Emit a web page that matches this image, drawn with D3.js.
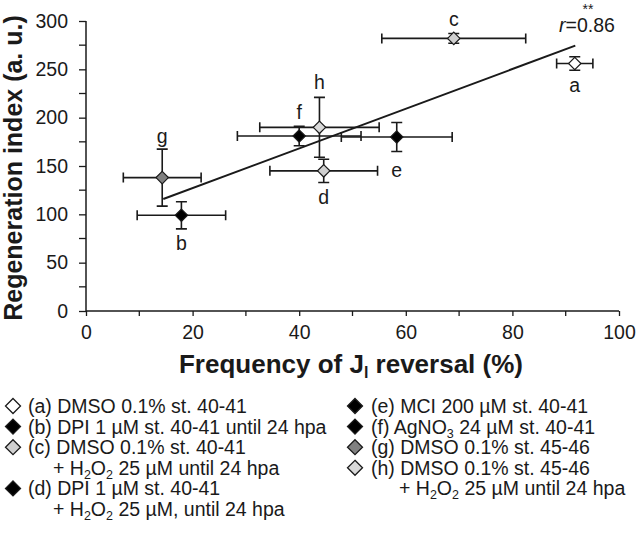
<!DOCTYPE html>
<html>
<head>
<meta charset="utf-8">
<script src="https://cdn.jsdelivr.net/npm/d3@7"></script>
<style>
  html, body { margin: 0; padding: 0; background: #fff; }
  svg { display: block; font-family: "Liberation Sans", Arial, sans-serif; }
</style>
</head>
<body>
<svg id="chart" width="636" height="549"></svg>
<script>
// ---------- data ----------
const labels   = ["a", "b", "c", "d", "e", "f", "g", "h"];
const freq     = [91.7, 17.9, 69.0, 44.6, 58.3, 40.0, 14.3, 43.8];   // % J_l reversal
const freqErr  = [3.4, 8.3, 13.5, 10.1, 10.4, 11.6, 7.3, 11.2];
const regen    = [256, 99, 282, 145, 180, 181, 138, 190];           // regeneration index
const regenErr = [7, 14, 5, 12, 15, 10, 29.5, 31];
const fills    = ["#ffffff", "#000000", "#d0d0d0", "#d0d0d0", "#000000", "#000000", "#808080", "#d9d9d9"];
const labelSide = ["below", "below", "above", "below", "below", "above", "above", "above"];
const labelGap  = [21, 28, 19, 26, 33, 24, 42, 45];

const fitX = [14.5, 91.8];
const fitY = [115.9, 274.5];

const xTicks = [0, 20, 40, 60, 80, 100];
const yTicks = [0, 50, 100, 150, 200, 250, 300];
const xMinor = [10, 30, 50, 70, 90];
const yMinor = [25, 75, 125, 175, 225, 275];

// legend entries: strings are normal text, one-element arrays are subscripts
const legendLeft = [
  { fill: "#ffffff", lines: [["(a) DMSO 0.1% st. 40-41"]] },
  { fill: "#000000", lines: [["(b) DPI 1 µM st. 40-41 until 24 hpa"]] },
  { fill: "#d0d0d0", lines: [["(c) DMSO 0.1% st. 40-41"], ["+ H", ["2"], "O", ["2"], " 25 µM until 24 hpa"]] },
  { fill: "#000000", lines: [["(d) DPI 1 µM st. 40-41"], ["+ H", ["2"], "O", ["2"], " 25 µM, until 24 hpa"]] }
];
const legendRight = [
  { fill: "#000000", lines: [["(e) MCI 200 µM st. 40-41"]] },
  { fill: "#000000", lines: [["(f) AgNO", ["3"], " 24 µM st. 40-41"]] },
  { fill: "#808080", lines: [["(g) DMSO 0.1% st. 45-46"]] },
  { fill: "#d9d9d9", lines: [["(h) DMSO 0.1% st. 45-46"], ["+ H", ["2"], "O", ["2"], " 25 µM until 24 hpa"]] }
];

// ---------- layout ----------
const svg = d3.select("#chart");
const x = d3.scaleLinear().domain([0, 100]).range([86, 619]);
const y = d3.scaleLinear().domain([0, 300]).range([311, 21]);
const ink = "#1a1a1a";
const FS = 19.5;

// axes
const xAxis = d3.axisBottom(x).tickValues(xTicks).tickSize(5).tickPadding(9);
const yAxis = d3.axisLeft(y).tickValues(yTicks).tickSize(7).tickPadding(11);

const gx = svg.append("g").attr("transform", `translate(0,${y(0)})`).call(xAxis);
const gy = svg.append("g").attr("transform", `translate(${x(0)},0)`).call(yAxis);
[gx, gy].forEach(g => {
  g.select(".domain").attr("stroke", ink).attr("stroke-width", 1.5);
  g.selectAll(".tick line").attr("stroke", ink).attr("stroke-width", 1.3);
  g.selectAll(".tick text").attr("font-size", FS).attr("fill", ink)
    .attr("font-family", "Liberation Sans, Arial, sans-serif");
});
gx.select(".domain").attr("d", `M${x(0)},0H${x(100)}`);
gy.select(".domain").attr("d", `M0,${y(0)}V${y(300)}`);

// minor ticks
svg.append("g").selectAll("line").data(xMinor).join("line")
  .attr("x1", d => x(d)).attr("x2", d => x(d))
  .attr("y1", y(0)).attr("y2", y(0) + 5)
  .attr("stroke", ink).attr("stroke-width", 1.3);
svg.append("g").selectAll("line").data(yMinor).join("line")
  .attr("x1", x(0)).attr("x2", x(0) - 7)
  .attr("y1", d => y(d)).attr("y2", d => y(d))
  .attr("stroke", ink).attr("stroke-width", 1.3);

// axis titles
const xt = svg.append("text")
  .attr("x", 351).attr("y", 373)
  .attr("text-anchor", "middle")
  .attr("font-size", 26).attr("font-weight", "bold").attr("fill", ink);
xt.append("tspan").text("Frequency of J");
xt.append("tspan").attr("font-size", 16).attr("dy", 5).text("l");
xt.append("tspan").attr("dy", -5).text(" reversal (%)");

svg.append("text")
  .attr("transform", `translate(22,${(y(0) + y(300)) / 2 + 2}) rotate(-90)`)
  .attr("text-anchor", "middle")
  .attr("font-size", 25).attr("font-weight", "bold").attr("fill", ink)
  .text("Regeneration index (a. u.)");

// regression line
svg.append("line")
  .attr("x1", x(fitX[0])).attr("y1", y(fitY[0]))
  .attr("x2", x(fitX[1])).attr("y2", y(fitY[1]))
  .attr("stroke", ink).attr("stroke-width", 2);

// data points
const pts = labels.map((l, i) => ({ l, fx: freq[i], fe: freqErr[i], ry: regen[i], re: regenErr[i], fill: fills[i], side: labelSide[i], gap: labelGap[i] }));

const eb = svg.append("g").attr("stroke", ink).attr("stroke-width", 1.6).attr("fill", "none");
const capH = 5, capV = 5.5;
pts.forEach(p => {
  const cx = x(p.fx), cy = y(p.ry);
  const x0 = x(p.fx - p.fe), x1 = x(p.fx + p.fe);
  const y0 = y(p.ry - p.re), y1 = y(p.ry + p.re);
  eb.append("path").attr("d",
    `M${x0},${cy}H${x1}M${x0},${cy - capH}V${cy + capH}M${x1},${cy - capH}V${cy + capH}` +
    `M${cx},${y0}V${y1}M${cx - capV},${y0}H${cx + capV}M${cx - capV},${y1}H${cx + capV}`);
});

const diamond = (cx, cy, r) => `M${cx},${cy - r}L${cx + r},${cy}L${cx},${cy + r}L${cx - r},${cy}Z`;
svg.append("g").selectAll("path").data(pts).join("path")
  .attr("d", d => diamond(x(d.fx), y(d.ry), 6.2))
  .attr("fill", d => d.fill)
  .attr("stroke", ink).attr("stroke-width", 1.2);

// point labels
svg.append("g").selectAll("text").data(pts).join("text")
  .attr("x", d => x(d.fx))
  .attr("y", d => y(d.ry) + (d.side === "below" ? d.gap : -d.gap) + 7)
  .attr("text-anchor", "middle")
  .attr("font-size", FS).attr("fill", ink)
  .text(d => d.l);

// correlation annotation
svg.append("text").attr("x", 588).attr("y", 14).attr("text-anchor", "middle")
  .attr("font-size", 14).attr("fill", ink).text("**");
const rt = svg.append("text").attr("x", 587).attr("y", 32).attr("text-anchor", "middle")
  .attr("font-size", FS).attr("fill", ink);
rt.append("tspan").attr("font-style", "italic").text("r");
rt.append("tspan").text("=0.86");

// legend
function drawLegend(items, mx, tx, y0, step, indent) {
  let row = 0;
  items.forEach(item => {
    const cy = y0 + row * step;
    svg.append("path").attr("d", diamond(mx, cy, 7.5))
      .attr("fill", item.fill).attr("stroke", ink).attr("stroke-width", 1.3);
    item.lines.forEach((parts, li) => {
      const t = svg.append("text")
        .attr("x", li === 0 ? tx : tx + indent)
        .attr("y", y0 + row * step + 7)
        .attr("font-size", FS).attr("fill", ink);
      let shift = 0;
      parts.forEach(part => {
        if (Array.isArray(part)) {
          t.append("tspan").attr("font-size", 12.5).attr("dy", 4 - shift).text(part[0]);
          shift = 4;
        } else {
          t.append("tspan").attr("dy", -shift).text(part);
          shift = 0;
        }
      });
      row++;
    });
  });
}
drawLegend(legendLeft, 13, 28, 406, 20.6, 25);
drawLegend(legendRight, 355, 371, 406, 20.6, 28);
</script>
</body>
</html>
